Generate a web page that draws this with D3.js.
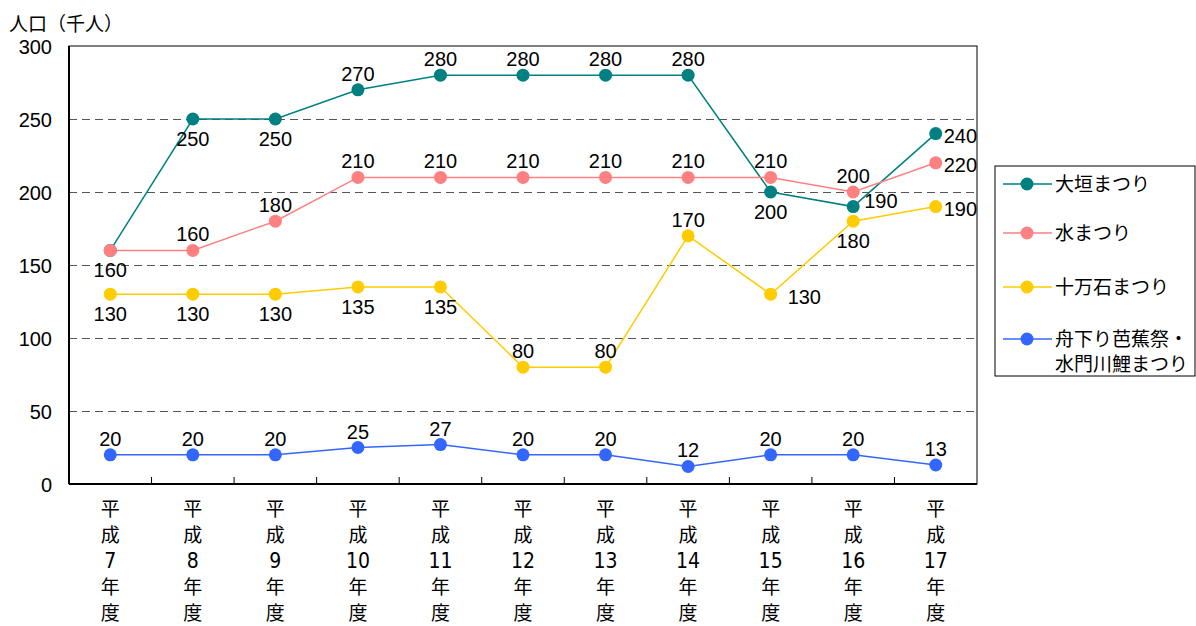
<!DOCTYPE html>
<html>
<head>
  <meta charset="utf-8">
  <script src="https://d3js.org/d3.v7.min.js"></script>
  <style>
    body { margin: 0; background: #fff; }
    text { font-family: "Liberation Sans", Arial, "Noto Sans CJK JP", sans-serif; }
    .gridlines line { stroke: #555; stroke-dasharray: 8 5; }
    .gridlines .domain { stroke: none; }
  </style>
</head>
<body>
  <svg id="chart" width="1196" height="626"></svg>
  <script>
    // data
    const years = ["7", "8", "9", "10", "11", "12", "13", "14", "15", "16", "17"];
    const yTicks = [0, 50, 100, 150, 200, 250, 300];
    const seriesNames = ["大垣まつり", "水まつり", "十万石まつり", "舟下り芭蕉祭・\n水門川鯉まつり"];
    const ogaki = [160, 250, 250, 270, 280, 280, 280, 280, 200, 190, 240];
    const mizu = [160, 160, 180, 210, 210, 210, 210, 210, 210, 200, 220];
    const jumangoku = [130, 130, 130, 135, 135, 80, 80, 170, 130, 180, 190];
    const funakudari = [20, 20, 20, 25, 27, 20, 20, 12, 20, 20, 13];

    // where each value label sits relative to its point
    const ogakiPos = ["none", "below", "below", "above", "above", "above", "above", "above", "below", "upright", "right"];
    const mizuPos = ["below", "above", "above", "above", "above", "above", "above", "above", "above", "above", "right"];
    const jumangokuPos = ["below", "below", "below", "below", "below", "above", "above", "above", "farright", "below", "right"];
    const funaPos = ["above", "above", "above", "above", "above", "above", "above", "above", "above", "above", "above"];

    const colors = ["#008080", "#ff8080", "#ffcc00", "#3366ff"];

    const series = [
      { name: seriesNames[0], values: ogaki, pos: ogakiPos, color: colors[0] },
      { name: seriesNames[1], values: mizu, pos: mizuPos, color: colors[1] },
      { name: seriesNames[2], values: jumangoku, pos: jumangokuPos, color: colors[2] },
      { name: seriesNames[3], values: funakudari, pos: funaPos, color: colors[3] }
    ];

    const svg = d3.select("#chart");
    const margin = { top: 46, left: 69 };
    const width = 908, height = 438;

    const x = d3.scaleBand().domain(years).range([0, width]);
    const y = d3.scaleLinear().domain([0, 300]).range([height, 0]);
    const cxOf = i => x(years[i]) + x.bandwidth() / 2;

    const chart = svg.append("g").attr("transform", `translate(${margin.left},${margin.top})`);

    // gridlines
    chart.append("g").attr("class", "gridlines")
      .call(d3.axisLeft(y).tickValues(yTicks.filter(t => t > 0 && t < 300)).tickSize(-width).tickFormat(""));

    // frame
    chart.append("rect").attr("width", width).attr("height", height)
      .attr("fill", "none").attr("stroke", "#000").attr("stroke-width", 1);
    chart.append("line").attr("x1", 0).attr("x2", 0).attr("y1", 0).attr("y2", height)
      .attr("stroke", "#000").attr("stroke-width", 2);
    chart.append("line").attr("x1", 0).attr("x2", width).attr("y1", height).attr("y2", height)
      .attr("stroke", "#000").attr("stroke-width", 2);

    // y axis labels
    const yAxis = chart.append("g").call(d3.axisLeft(y).tickValues(yTicks).tickSize(0).tickPadding(17));
    yAxis.select(".domain").remove();
    yAxis.selectAll("text").attr("font-size", 20).attr("fill", "#000").attr("dy", "0.38em")
      .style("font-family", "'Liberation Sans', Arial, sans-serif");

    // x ticks on band boundaries, pointing inward
    const bounds = years.slice(1).map(d => x(d));
    chart.selectAll(".xtick").data(bounds).enter().append("line")
      .attr("x1", d => d).attr("x2", d => d)
      .attr("y1", height).attr("y2", height - 7)
      .attr("stroke", "#000").attr("stroke-width", 1);

    // x labels stacked vertically
    years.forEach((yr, k) => {
      const cx = cxOf(k);
      const parts = ["平", "成", yr, "年", "度"];
      const t = chart.append("text").attr("text-anchor", "middle").attr("fill", "#000");
      parts.forEach((p, i) => {
        t.append("tspan").attr("x", cx).attr("y", height + 32 + i * 26)
          .style("font-family", i === 2 ? "'DejaVu Sans Condensed', 'Noto Sans CJK JP', sans-serif" : "'Noto Sans CJK JP', sans-serif")
          .attr("font-size", i === 2 ? 21 : 19)
          .text(p);
      });
    });

    // title
    svg.append("text").attr("x", 9).attr("y", 31).attr("font-size", 19).attr("fill", "#000")
      .style("font-family", "'Noto Sans CJK JP', sans-serif")
      .text("人口（千人）");

    // lines, points, labels
    const line = d3.line().x((d, i) => cxOf(i)).y(d => y(d));

    series.forEach(s => {
      chart.append("path").datum(s.values).attr("d", line)
        .attr("fill", "none").attr("stroke", s.color).attr("stroke-width", 1.5);
    });
    series.forEach(s => {
      chart.selectAll(null).data(s.values).enter().append("circle")
        .attr("cx", (d, i) => cxOf(i))
        .attr("cy", d => y(d)).attr("r", 6.5).attr("fill", s.color);
    });
    series.forEach(s => {
      s.values.forEach((v, i) => {
        const p = s.pos[i];
        if (p === "none") return;
        const cx = cxOf(i), cy = y(v);
        const t = chart.append("text").attr("font-size", 20).attr("fill", "#000").text(v);
        if (p === "above") t.attr("x", cx).attr("y", cy - 9).attr("text-anchor", "middle");
        else if (p === "below") t.attr("x", cx).attr("y", cy + 27).attr("text-anchor", "middle");
        else if (p === "upright") t.attr("x", cx + 11).attr("y", cy + 1);
        else if (p === "farright") t.attr("x", cx + 17).attr("y", cy + 10);
        else t.attr("x", cx + 8).attr("y", cy + 9);
      });
    });

    // legend
    const legend = svg.append("g").attr("transform", "translate(995,166)");
    legend.append("rect").attr("width", 200).attr("height", 210)
      .attr("fill", "#fff").attr("stroke", "#000").attr("stroke-width", 1);
    const rowY = [18, 67, 121, 173];
    series.forEach((s, i) => {
      const g = legend.append("g").attr("transform", `translate(0,${rowY[i]})`);
      g.append("line").attr("x1", 8).attr("x2", 57).attr("y1", 0).attr("y2", 0)
        .attr("stroke", s.color).attr("stroke-width", 1.5);
      g.append("circle").attr("cx", 32).attr("cy", 0).attr("r", 6.5).attr("fill", s.color);
      s.name.split("\n").forEach((ln, j) => {
        g.append("text").attr("x", 60).attr("y", 7 + j * 25).attr("font-size", 19).attr("fill", "#000")
          .style("font-family", "'Noto Sans CJK JP', sans-serif").text(ln);
      });
    });
  </script>
</body>
</html>
